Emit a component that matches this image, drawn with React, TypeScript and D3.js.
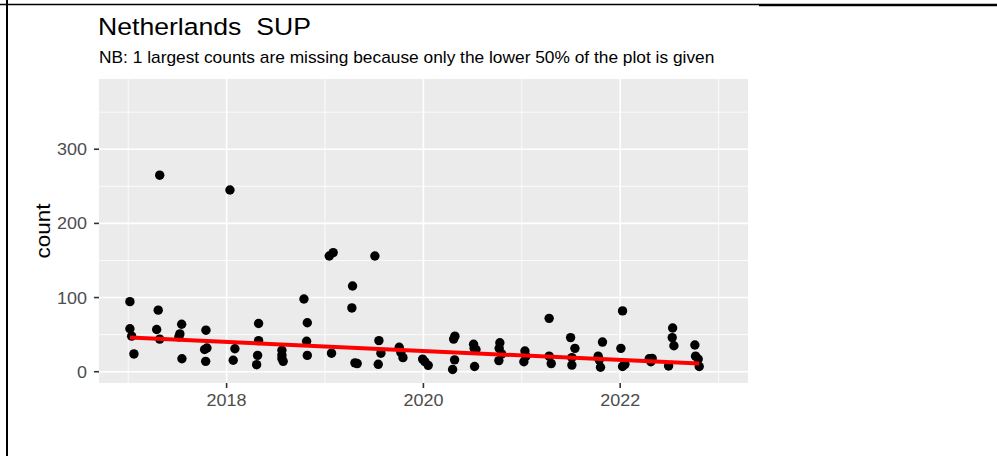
import React from "react";
import * as d3 from "d3";

const chartTitle = "Netherlands  SUP";
const chartSubtitle =
  "NB: 1 largest counts are missing because only the lower 50% of the plot is given";
const yAxisTitle = "count";

// decimal-year dates of each observation
const dates = [
  2017.017, 2017.017, 2017.035, 2017.058,
  2017.32, 2017.305, 2017.289, 2017.32,
  2017.543, 2017.525, 2017.515, 2017.546,
  2017.79, 2017.8, 2017.776, 2017.787,
  2018.034, 2018.084, 2018.067,
  2018.325, 2018.325, 2018.315, 2018.305,
  2018.562, 2018.562, 2018.562, 2018.575,
  2018.786, 2018.82, 2018.813, 2018.82,
  2019.043, 2019.083, 2019.066,
  2019.28, 2019.273, 2019.304, 2019.327,
  2019.507, 2019.548, 2019.568, 2019.541,
  2019.754, 2019.771, 2019.792,
  2019.992, 2020.015, 2020.049,
  2020.32, 2020.307, 2020.317, 2020.297,
  2020.51, 2020.516, 2020.534, 2020.52,
  2020.777, 2020.77, 2020.795, 2020.767,
  2021.032, 2021.042, 2021.021,
  2021.278, 2021.278, 2021.299,
  2021.496, 2021.54, 2021.509, 2021.509,
  2021.82, 2021.776, 2021.787, 2021.8,
  2022.024, 2022.007, 2022.024, 2022.048,
  2022.295, 2022.325, 2022.312,
  2022.533, 2022.529, 2022.546, 2022.492,
  2022.759, 2022.766, 2022.793, 2022.803,
];

const counts = [
  94.5, 58, 48, 24,
  265, 83, 57, 44,
  64, 51, 47, 17.5,
  56, 32, 30, 14,
  245, 31, 15.5,
  65, 42, 22, 9.5,
  29, 22.5, 18, 14,
  98, 66, 41, 22,
  156, 160.6, 25,
  115.6, 86, 12, 11,
  156, 42, 25, 10,
  33, 26, 19,
  17, 13.5, 8.6,
  48, 44, 16, 3,
  37, 31.5, 30, 7,
  39, 31.5, 24, 15,
  28, 21, 13.5,
  72, 21, 11,
  46, 31.5, 19, 9,
  40, 21, 16, 6,
  82, 31.5, 7, 10,
  17.5, 18, 13.5,
  59, 46, 35, 7.7,
  36, 21, 17, 7,
];

// fitted trend line (start and end)
const trendDates = [2017.017, 2022.803];
const trendCounts = [46, 11];

const xMajorTicks = [2018, 2020, 2022];
const xMinorTicks = [2017, 2019, 2021, 2023];
const yMajorTicks = [0, 100, 200, 300];
const yMinorTicks = [50, 150, 250, 350];

const W = 997;
const H = 456;
const panel = { left: 99, right: 748, top: 79, bottom: 383 };
const FONT = "'Liberation Sans', Arial, sans-serif";
const SX = 1.09;

export default function App() {
  const x = d3.scaleLinear().domain([2016.703, 2023.299]).range([panel.left, panel.right]);
  const y = d3.scaleLinear().domain([-15.2, 394.7]).range([panel.bottom, panel.top]);

  const points = dates.map((d, i) => ({ d, c: counts[i] }));
  const trend = trendDates.map((d, i) => ({ d, c: trendCounts[i] }));
  const line = d3
    .line<{ d: number; c: number }>()
    .x((p) => x(p.d))
    .y((p) => y(p.c));

  return (
    <svg
      width={W}
      height={H}
      style={{ position: "absolute", left: 0, top: 0, background: "#fff" }}
      fontFamily={FONT}
    >
      <rect x={0} y={0} width={W} height={H} fill="#fff" />
      {/* page borders */}
      <line x1={0} x2={759} y1={4.5} y2={4.5} stroke="#000" strokeWidth={1.5} />
      <line x1={759} x2={W} y1={5} y2={5} stroke="#000" strokeWidth={2.5} />
      <line x1={7} x2={7} y1={0} y2={H} stroke="#000" strokeWidth={2} />

      {/* title */}
      <text
        transform={`translate(98,35) scale(1.075,1)`}
        fontSize={24.75}
        fill="#000"
        style={{ whiteSpace: "pre" }}
      >
        {chartTitle}
      </text>
      <text
        transform={`translate(99,63) scale(${SX},1)`}
        fontSize={15.9}
        fill="#000"
      >
        {chartSubtitle}
      </text>

      {/* panel */}
      <rect
        x={panel.left}
        y={panel.top}
        width={panel.right - panel.left}
        height={panel.bottom - panel.top}
        fill="#EBEBEB"
      />
      {yMinorTicks.map((t) => (
        <line key={"ym" + t} x1={panel.left} x2={panel.right} y1={y(t)} y2={y(t)} stroke="#fff" strokeWidth={0.8} />
      ))}
      {xMinorTicks.map((t) => (
        <line key={"xm" + t} x1={x(t)} x2={x(t)} y1={panel.top} y2={panel.bottom} stroke="#fff" strokeWidth={0.8} />
      ))}
      {yMajorTicks.map((t) => (
        <line key={"yM" + t} x1={panel.left} x2={panel.right} y1={y(t)} y2={y(t)} stroke="#fff" strokeWidth={1.6} />
      ))}
      {xMajorTicks.map((t) => (
        <line key={"xM" + t} x1={x(t)} x2={x(t)} y1={panel.top} y2={panel.bottom} stroke="#fff" strokeWidth={1.6} />
      ))}

      {/* points */}
      {points.map((p, i) => (
        <circle key={i} cx={x(p.d)} cy={y(p.c)} r={4.7} fill="#000" />
      ))}

      {/* trend */}
      <path d={line(trend) || ""} fill="none" stroke="#FF0000" strokeWidth={4} />

      {/* y axis */}
      {yMajorTicks.map((t) => (
        <g key={"yt" + t}>
          <line x1={panel.left - 5} x2={panel.left} y1={y(t)} y2={y(t)} stroke="#333" strokeWidth={1.6} />
          <text
            transform={`translate(87,${y(t) + 6}) scale(${SX},1)`}
            textAnchor="end"
            fontSize={16.5}
            fill="#4D4D4D"
          >
            {t}
          </text>
        </g>
      ))}
      {/* x axis */}
      {xMajorTicks.map((t) => (
        <g key={"xt" + t}>
          <line x1={x(t)} x2={x(t)} y1={panel.bottom} y2={panel.bottom + 5} stroke="#333" strokeWidth={1.6} />
          <text
            transform={`translate(${x(t)},406) scale(${SX},1)`}
            textAnchor="middle"
            fontSize={16.5}
            fill="#4D4D4D"
          >
            {t}
          </text>
        </g>
      ))}
      <text
        transform={`translate(50,${(panel.top + panel.bottom) / 2}) rotate(-90) scale(${SX},1)`}
        textAnchor="middle"
        fontSize={20.6}
        fill="#000"
      >
        {yAxisTitle}
      </text>
    </svg>
  );
}
